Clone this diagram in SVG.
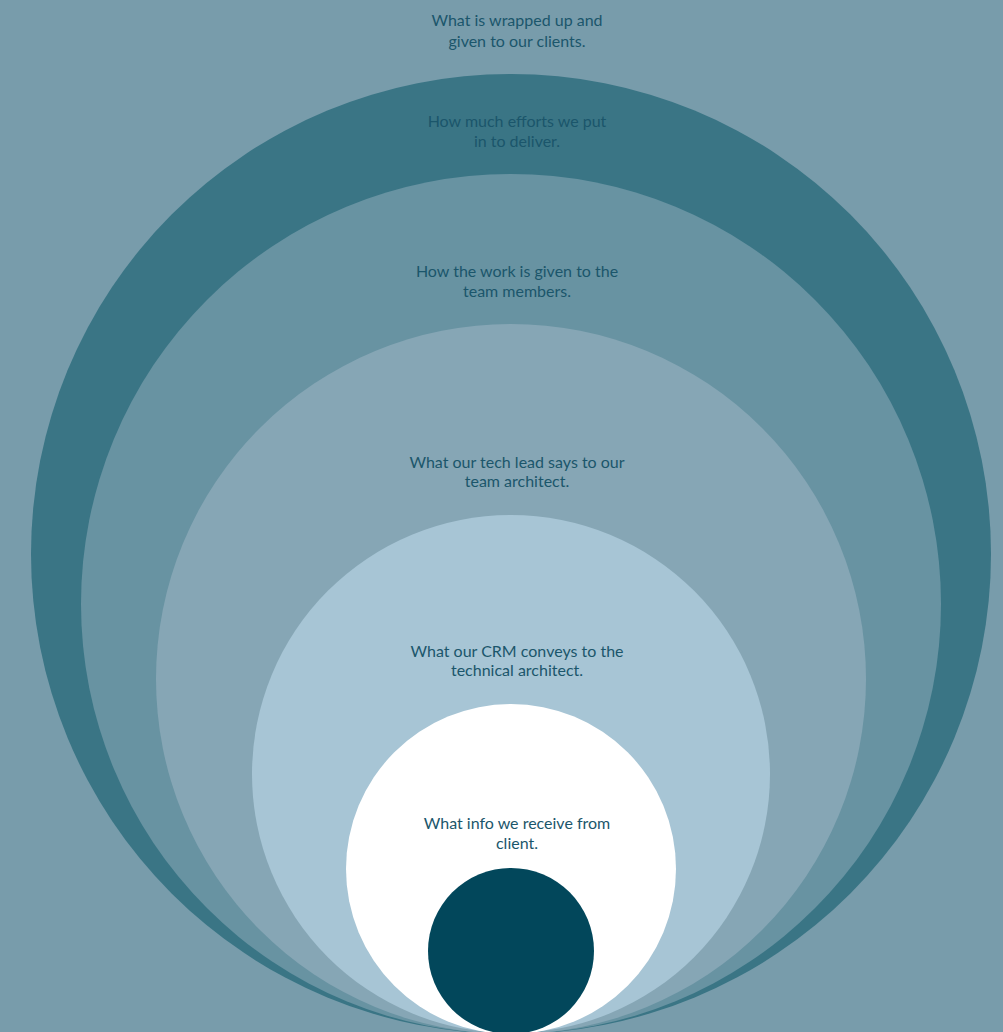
<svg xmlns="http://www.w3.org/2000/svg" width="1003" height="1032" viewBox="0 0 1003 1032">
<style>
text{font-family:Lato,"Liberation Sans",sans-serif;font-size:16px;fill:#1b566b;text-anchor:middle}
</style>
<rect width="1003" height="1032" fill="#789cab"/>
<g id="ring1"><circle cx="511" cy="554" r="480" fill="#3a7585"/></g>
<g id="ring2"><circle cx="511" cy="604" r="430" fill="#6893a2"/></g>
<g id="ring3"><circle cx="511" cy="679" r="355" fill="#86a6b5"/></g>
<g id="ring4"><circle cx="511" cy="774" r="259" fill="#a7c5d5"/></g>
<g id="ring5"><circle cx="511" cy="869" r="165" fill="#ffffff"/></g>
<g id="core"><circle cx="511" cy="951" r="83" fill="#02475b"/></g>
<g id="labels">
<text x="517" y="26">What is wrapped up and</text>
<text x="517" y="47">given to our clients.</text>
<text x="517" y="127">How much efforts we put</text>
<text x="517" y="147">in to deliver.</text>
<text x="517" y="277">How the work is given to the</text>
<text x="517" y="297">team members.</text>
<text x="517" y="468">What our tech lead says to our</text>
<text x="517" y="487">team architect.</text>
<text x="517" y="657">What our CRM conveys to the</text>
<text x="517" y="676">technical architect.</text>
<text x="517" y="829">What info we receive from</text>
<text x="517" y="849">client.</text>
</g>
</svg>
